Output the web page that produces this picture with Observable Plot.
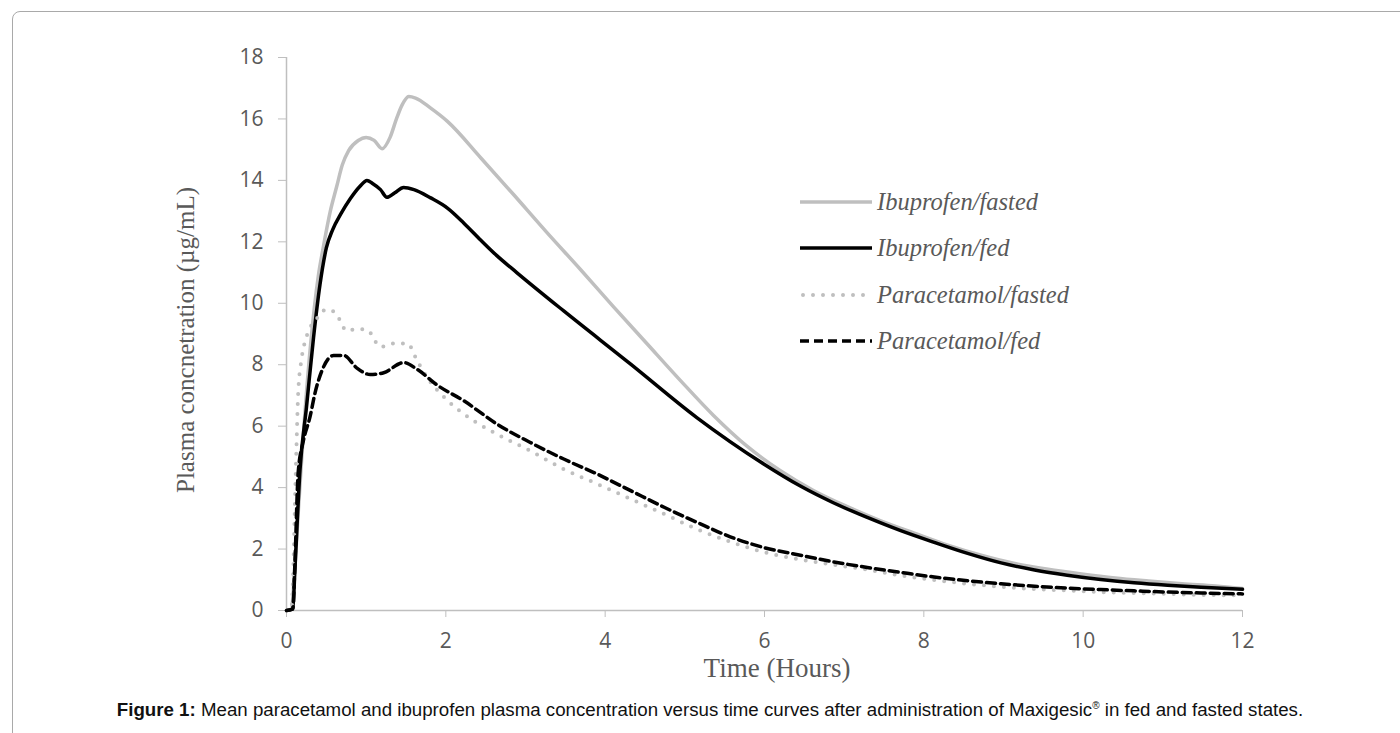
<!DOCTYPE html>
<html>
<head>
<meta charset="utf-8">
<script src="https://cdn.jsdelivr.net/npm/d3@7"></script>
<script src="https://cdn.jsdelivr.net/npm/@observablehq/plot@0.6"></script>
<style>
  html, body { margin: 0; padding: 0; background: #fff; width: 1400px; height: 733px; overflow: hidden; }
  #frame { position: absolute; left: 12px; top: 11px; width: 1420px; height: 760px; border: 1px solid #a9a9a9; border-radius: 8px; box-sizing: border-box; }
  #chart { position: absolute; left: 0; top: 0; }
  .ttl { position: absolute; font-family: "Liberation Serif", "Times New Roman", serif; color: #595959; white-space: nowrap; line-height: 1; }
  #legend { position: absolute; left: 800px; top: 0; }
  .row { position: absolute; left: 0; display: flex; align-items: center; white-space: nowrap; }
  .row span { font-family: "Liberation Serif", serif; font-style: italic; font-size: 24.5px; color: #595959; margin-left: 5px; }
  #caption { position: absolute; left: 10px; width: 1400px; top: 699px; text-align: center; font-family: "Liberation Sans", Arial, sans-serif; font-size: 18.7px; color: #111; }
  #caption sup { font-size: 10px; }
</style>
</head>
<body>
<div id="frame"></div>
<div id="chart"></div>
<div class="ttl" id="xtitle" style="left:777px;top:668px;font-size:27px;transform:translate(-50%,-50%);">Time (Hours)</div>
<div class="ttl" id="ytitle" style="left:185px;top:340px;font-size:25px;transform:translate(-50%,-50%) rotate(-90deg);">Plasma concnetration (µg/mL)</div>
<div id="legend"></div>
<div id="caption"><b>Figure 1:</b> Mean paracetamol and ibuprofen plasma concentration versus time curves after administration of Maxigesic<sup>®</sup> in fed and fasted states.</div>
<script>
// ---- data ----
const xTicks = [0, 2, 4, 6, 8, 10, 12];
const yTicks = [0, 2, 4, 6, 8, 10, 12, 14, 16, 18];
const seriesNames = ["Ibuprofen/fasted", "Ibuprofen/fed", "Paracetamol/fasted", "Paracetamol/fed"];

const ibuFastedT = [0, 0.06, 0.1, 0.15, 0.2, 0.3, 0.4, 0.46, 0.55, 0.63, 0.7, 0.78, 0.9, 1.0, 1.1, 1.2, 1.3, 1.38, 1.45, 1.535, 1.62, 1.81, 2.02, 2.44, 2.85, 3.27, 3.69, 4.1, 4.52, 4.94, 5.36, 5.78, 6.2, 6.62, 7.04, 7.46, 7.88, 8.3, 8.72, 9.14, 9.56, 9.98, 10.4, 10.82, 11.24, 11.66, 12];
const ibuFastedV = [0, 0.05, 1.2, 3.3, 5.3, 8.6, 10.9, 11.8, 13.0, 13.8, 14.5, 14.97, 15.3, 15.4, 15.3, 15.03, 15.4, 16.0, 16.45, 16.73, 16.68, 16.35, 15.92, 14.73, 13.54, 12.3, 11.1, 9.9, 8.7, 7.5, 6.35, 5.35, 4.55, 3.9, 3.38, 2.92, 2.52, 2.13, 1.8, 1.53, 1.34, 1.19, 1.06, 0.96, 0.87, 0.8, 0.72];

const ibuFedT = [0, 0.08, 0.105, 0.17, 0.25, 0.34, 0.42, 0.5, 0.58, 0.68, 0.8, 0.92, 1.01, 1.08, 1.18, 1.26, 1.36, 1.47, 1.6, 1.81, 2.02, 2.23, 2.44, 2.64, 2.89, 3.48, 4.32, 5.15, 5.99, 6.45, 6.87, 7.29, 7.71, 8.13, 8.55, 8.97, 9.39, 9.8, 10.22, 10.64, 11.06, 11.48, 12];
const ibuFedV = [0, 0.05, 1.3, 4.6, 6.6, 8.9, 10.6, 11.8, 12.4, 12.9, 13.4, 13.8, 14.0, 13.9, 13.7, 13.45, 13.6, 13.77, 13.7, 13.43, 13.1, 12.6, 12.05, 11.55, 11.0, 9.75, 8.02, 6.28, 4.77, 4.05, 3.5, 3.03, 2.6, 2.22, 1.86, 1.55, 1.32, 1.15, 1.01, 0.9, 0.82, 0.76, 0.69];

const paraFastedT = [0, 0.06, 0.085, 0.105, 0.126, 0.147, 0.19, 0.25, 0.38, 0.5, 0.61, 0.76, 0.88, 1.01, 1.18, 1.35, 1.52, 1.64, 1.77, 2.02, 2.23, 2.64, 3.06, 3.48, 3.9, 4.32, 4.74, 5.15, 5.57, 5.99, 6.45, 6.87, 7.29, 7.71, 8.13, 8.55, 8.97, 9.39, 9.8, 10.22, 10.64, 11.06, 11.48, 12];
const paraFastedV = [0, 0.05, 1.3, 3.4, 5.4, 7.1, 8.2, 8.9, 9.5, 9.8, 9.7, 9.1, 9.16, 9.14, 8.58, 8.69, 8.69, 8.13, 7.57, 6.84, 6.39, 5.74, 5.2, 4.6, 4.12, 3.63, 3.14, 2.65, 2.24, 1.9, 1.66, 1.49, 1.33, 1.14, 0.99, 0.87, 0.77, 0.7, 0.65, 0.6, 0.57, 0.54, 0.51, 0.49];

const paraFedT = [0, 0.08, 0.105, 0.147, 0.21, 0.295, 0.36, 0.46, 0.59, 0.72, 0.88, 1.05, 1.22, 1.47, 1.64, 1.89, 2.23, 2.64, 3.06, 3.48, 3.9, 4.32, 4.74, 5.15, 5.57, 5.99, 6.45, 6.87, 7.29, 7.71, 8.13, 8.55, 8.97, 9.39, 9.8, 10.22, 10.64, 11.06, 11.48, 12];
const paraFedV = [0, 0.05, 1.5, 4.5, 5.5, 6.3, 7.1, 7.9, 8.3, 8.3, 7.9, 7.68, 7.74, 8.07, 7.85, 7.34, 6.82, 6.07, 5.47, 4.93, 4.44, 3.9, 3.36, 2.87, 2.4, 2.05, 1.8, 1.58, 1.4, 1.24, 1.09, 0.97, 0.87, 0.79, 0.73, 0.68, 0.64, 0.6, 0.57, 0.54];

// ---- build tables ----
const toRows = (T, V) => T.map((t, i) => ({t, v: V[i]}));
const styles = [
  {stroke: "#bfbfbf", strokeWidth: 3.5},
  {stroke: "#000", strokeWidth: 3.5},
  {stroke: "#bfbfbf", strokeWidth: 4, strokeDasharray: "0 10", strokeLinecap: "round"},
  {stroke: "#000", strokeWidth: 3.5, strokeDasharray: "9 5"}
];
const tables = [toRows(ibuFastedT, ibuFastedV), toRows(ibuFedT, ibuFedV), toRows(paraFastedT, paraFastedV), toRows(paraFedT, paraFedV)];

const axisGray = "#bfbfbf";
const chart = Plot.plot({
  width: 1400,
  height: 680,
  marginLeft: 286,
  marginRight: 158,
  marginTop: 57,
  marginBottom: 70,
  style: {fontFamily: "'Open Sans', sans-serif", fontSize: "21px", color: "#595959", background: "transparent"},
  x: {domain: [0, 12]},
  y: {domain: [0, 18]},
  marks: [
    Plot.ruleX([0], {stroke: axisGray, strokeWidth: 1.5}),
    Plot.ruleY([0], {stroke: axisGray, strokeWidth: 1.5}),
    Plot.axisY({ticks: yTicks, tickSize: 8, tickPadding: 15, stroke: axisGray, fill: "#595959", label: null, fontSize: 21}),
    Plot.axisX({ticks: xTicks, tickSize: 7, tickPadding: 16, stroke: axisGray, fill: "#595959", label: null, fontSize: 21}),
    ...tables.map((rows, i) => Plot.line(rows, {x: "t", y: "v", curve: "monotone-x", strokeLinejoin: "round", ...styles[i]}))
  ]
});
document.getElementById("chart").appendChild(chart);

// ---- legend ----
const legend = document.getElementById("legend");
const rowY = [202, 248, 295, 341];
seriesNames.forEach((name, i) => {
  const row = document.createElement("div");
  row.className = "row";
  row.style.top = (rowY[i] - 15) + "px";
  row.style.height = "30px";
  const s = styles[i];
  const svg = `<svg width="72" height="10"><line x1="${s.strokeLinecap ? 3 : 0}" y1="5" x2="72" y2="5" stroke="${s.stroke}" stroke-width="${s.strokeWidth}" ${s.strokeDasharray ? `stroke-dasharray="${s.strokeDasharray}"` : ""} ${s.strokeLinecap ? `stroke-linecap="${s.strokeLinecap}"` : ""}/></svg>`;
  row.innerHTML = svg + `<span>${name}</span>`;
  legend.appendChild(row);
});
</script>
</body>
</html>
